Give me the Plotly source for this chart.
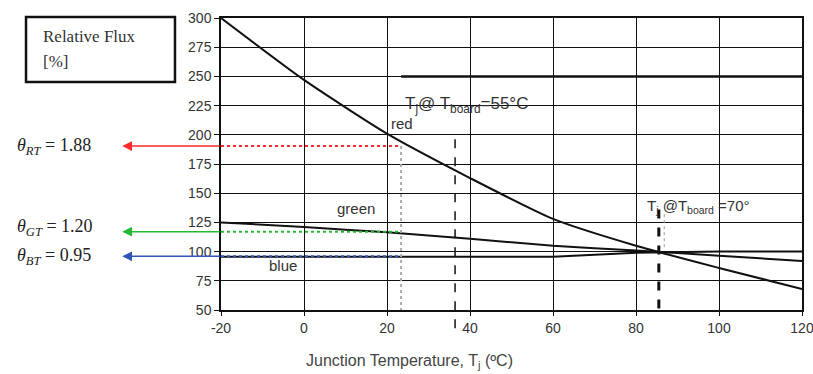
import plotly.graph_objects as go

# ---- data ----
temps = [-20, 0, 20, 40, 60, 80, 100, 120]
red_flux = [300, 247, 201, 163, 128, 105, 86, 68]
green_flux = [125, 121, 116.5, 111, 105, 101, 96.5, 92]
blue_flux = [95.5, 95.5, 95.5, 95.5, 95.5, 99, 100, 100]

x_ticks = [-20, 0, 20, 40, 60, 80, 100, 120]
y_ticks = [50, 75, 100, 125, 150, 175, 200, 225, 250, 275, 300]

theta_names = ["RT", "GT", "BT"]
theta_values = ["1.88", "1.20", "0.95"]
theta_flux = [190.4, 117, 96]
theta_colors = ["#ff2a2a", "#22bb33", "#3355bb"]
theta_text_flux = [190.4, 121, 95.6]
ref_temp = 23.4          # Tj where the dotted reference lines end
tj_55 = 36.4             # Tj @ Tboard = 55 °C
tj_70 = 85.5             # Tj @ Tboard = 70 °C

TXT = "#333333"
SANS = "Liberation Sans, Arial, sans-serif"
SERIF = "Liberation Serif, Times New Roman, serif"

fig = go.Figure()

fig.add_trace(go.Scatter(x=temps, y=red_flux, mode="lines",
                         line=dict(color="#111111", width=2, shape="spline", smoothing=0.6),
                         showlegend=False, hoverinfo="skip"))
fig.add_trace(go.Scatter(x=temps, y=green_flux, mode="lines",
                         line=dict(color="#111111", width=2, shape="spline", smoothing=0.6),
                         showlegend=False, hoverinfo="skip"))
fig.add_trace(go.Scatter(x=temps, y=blue_flux, mode="lines",
                         line=dict(color="#111111", width=2),
                         showlegend=False, hoverinfo="skip"))

# dotted horizontal reference lines from the y axis to ref_temp
for f, c in zip(theta_flux, theta_colors):
    fig.add_trace(go.Scatter(x=[temps[0], ref_temp], y=[f, f], mode="lines",
                             line=dict(color=c, width=2, dash="dot"),
                             showlegend=False, hoverinfo="skip"))

shapes = []
# gray dotted vertical at ref_temp
shapes.append(dict(type="line", xref="x", yref="y", x0=ref_temp, x1=ref_temp,
                   y0=theta_flux[0], y1=y_ticks[0],
                   line=dict(color="#aaaaaa", width=2, dash="dot")))
# dashed vertical at Tj (55 °C board), extending below axis
shapes.append(dict(type="line", xref="x", yref="paper", x0=tj_55, x1=tj_55,
                   y0=0.585, y1=-0.08, line=dict(color="#111111", width=1.5, dash="dash")))
# thick dashed vertical at Tj (70 °C board)
shapes.append(dict(type="line", xref="x", yref="y", x0=tj_70, x1=tj_70,
                   y0=136, y1=y_ticks[0], line=dict(color="#111111", width=3, dash="dash")))
shapes.append(dict(type="line", xref="x", yref="y", x0=tj_70 + 1.3, x1=tj_70 + 1.3,
                   y0=132, y1=101, line=dict(color="#999999", width=1, dash="dot")))
# thicker line at 250 on the right part
shapes.append(dict(type="line", xref="x", yref="y", x0=ref_temp, x1=temps[-1],
                   y0=250, y1=250, line=dict(color="#111111", width=2.5)))
# legend-like box at top-left
shapes.append(dict(type="rect", xref="paper", yref="paper", x0=-0.3356, x1=-0.0792,
                   y0=0.7808, y1=1.0034, line=dict(color="#111111", width=2.5)))

annotations = []
annotations.append(dict(text="Relative Flux", xref="paper", yref="paper", x=-0.309, y=0.935,
                        xanchor="left", yanchor="middle", showarrow=False,
                        font=dict(family=SERIF, size=17, color=TXT)))
annotations.append(dict(text="[%]", xref="paper", yref="paper", x=-0.309, y=0.85,
                        xanchor="left", yanchor="middle", showarrow=False,
                        font=dict(family=SERIF, size=17, color=TXT)))

for name, val, f, tf, c in zip(theta_names, theta_values, theta_flux, theta_text_flux, theta_colors):
    annotations.append(dict(text="", xref="paper", yref="y", x=-0.170, y=f,
                            showarrow=True, ax=99, ay=0, axref="pixel", ayref="pixel",
                            arrowhead=2, arrowsize=1.3, arrowwidth=1.5, arrowcolor=c))
    annotations.append(dict(text="<i>θ</i><sub><i>%s</i></sub> = %s" % (name, val),
                            xref="paper", yref="y", x=-0.3546, y=tf,
                            xanchor="left", yanchor="middle", showarrow=False,
                            font=dict(family=SERIF, size=18, color="#222222")))

annotations.append(dict(text="red", xref="x", yref="y", x=23.6, y=210,
                        showarrow=False, font=dict(family=SANS, size=15, color=TXT)))
annotations.append(dict(text="green", xref="x", yref="y", x=12.5, y=137.3,
                        showarrow=False, font=dict(family=SANS, size=15, color=TXT)))
annotations.append(dict(text="blue", xref="x", yref="y", x=-5.1, y=87.7,
                        showarrow=False, font=dict(family=SANS, size=15, color=TXT)))
annotations.append(dict(text="T<sub>j</sub>@ T<sub>board</sub>=55°C", xref="x", yref="y",
                        x=23.9, y=225.5, xanchor="left", yanchor="middle", showarrow=False,
                        font=dict(family=SANS, size=17, color=TXT)))
annotations.append(dict(text="T<sub>j</sub> @T<sub>board</sub> =70°", xref="x", yref="y",
                        x=82.2, y=138.2, xanchor="left", yanchor="middle", showarrow=False,
                        font=dict(family=SANS, size=15, color=TXT)))
annotations.append(dict(text="Junction Temperature, T<sub>j</sub> (ºC)", xref="paper", yref="paper",
                        x=0.325, y=-0.178, xanchor="center", yanchor="middle", showarrow=False,
                        font=dict(family=SANS, size=16, color="#444444")))

fig.update_layout(
    width=813, height=374,
    margin=dict(l=221, r=11, t=18, b=64, autoexpand=False),
    paper_bgcolor="white", plot_bgcolor="white",
    shapes=shapes, annotations=annotations,
    showlegend=False,
)
fig.update_xaxes(range=[-20, 120], tickvals=x_ticks, ticktext=[str(v) for v in x_ticks],
                 showgrid=True, gridcolor="#111111", gridwidth=1, automargin=False,
                 ticklabeloverflow="allow",
                 showline=True, linecolor="#111111", linewidth=1.5, mirror=True,
                 ticks="outside", ticklen=4, tickcolor="#111111", zeroline=False,
                 tickfont=dict(family=SANS, size=14, color=TXT))
fig.update_yaxes(range=[50, 300], tickvals=y_ticks, ticktext=[str(v) for v in y_ticks],
                 showgrid=True, gridcolor="#111111", gridwidth=1, automargin=False,
                 ticklabeloverflow="allow",
                 showline=True, linecolor="#111111", linewidth=1.5, mirror=True,
                 ticks="outside", ticklen=5, tickcolor="#111111", zeroline=False,
                 tickfont=dict(family=SANS, size=14, color=TXT))

fig.write_html("out.html", config={"displayModeBar": False},
               post_script="document.body.style.margin='0';document.body.style.overflow='hidden';")
